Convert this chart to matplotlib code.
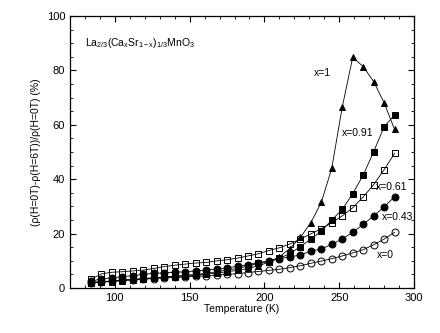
import numpy as np
import matplotlib
matplotlib.use("Agg")
import matplotlib.pyplot as plt
from matplotlib.ticker import MultipleLocator

plt.rcParams['font.family'] = ['Liberation Sans', 'DejaVu Sans']
plt.rcParams['mathtext.fontset'] = 'custom'
plt.rcParams['mathtext.rm'] = 'Liberation Sans'
plt.rcParams['mathtext.it'] = 'Liberation Sans'

# temperature grid (K)
temps = [84, 91, 98, 105, 112, 119, 126, 133, 140, 147,
         154, 161, 168, 175, 182, 189, 196, 203, 210, 217,
         224, 231, 238, 245, 252, 259, 266, 273, 280, 287]

# magnetoresistance (%) for each composition
mr_x0 = [2.0, 2.3, 2.6, 2.9, 3.1, 3.3, 3.5, 3.7, 3.9, 4.1,
         4.3, 4.5, 4.8, 5.0, 5.3, 5.7, 6.1, 6.5, 6.9, 7.5,
         8.2, 9.1, 9.9, 10.8, 11.8, 12.9, 14.1, 15.9, 18.0, 20.5]
mr_x043 = [2.6, 3.3, 3.8, 4.2, 4.6, 5.0, 5.4, 5.6, 5.8, 6.0,
           6.3, 6.6, 7.0, 7.4, 8.0, 8.6, 9.3, 10.0, 10.8, 11.5,
           12.1, 13.6, 14.3, 16.1, 18.0, 20.5, 23.4, 26.5, 29.8, 33.6]
mr_x061 = [3.2, 5.2, 5.8, 6.0, 6.3, 6.6, 7.2, 7.9, 8.4, 8.8,
           9.2, 9.4, 10.0, 10.4, 11.0, 11.8, 12.6, 13.8, 14.8, 16.2,
           18.0, 19.9, 21.8, 24.0, 26.5, 29.5, 33.5, 38.0, 43.5, 49.5]
mr_x091 = [2.0, 2.3, 2.6, 2.9, 3.2, 3.5, 3.8, 4.1, 4.4, 4.7,
           5.0, 5.4, 6.0, 6.6, 7.2, 8.1, 9.1, 9.7, 10.9, 12.7,
           15.2, 18.0, 20.9, 25.0, 28.9, 34.7, 41.5, 50.1, 59.3, 63.6]
mr_x1 = [2.0, 2.2, 2.4, 2.7, 3.0, 3.3, 3.6, 3.9, 4.2, 4.5,
         4.8, 5.1, 5.5, 6.0, 6.5, 7.2, 8.2, 9.5, 11.5, 14.5,
         18.6, 24.0, 31.5, 44.0, 66.5, 84.8, 81.4, 75.9, 68.1, 58.3]

labels = ['x=1', 'x=0.91', 'x=0.61', 'x=0.43', 'x=0']
label_pos = [(239, 79), (262, 57), (285, 37), (289, 26), (281, 12)]

fig = plt.figure(figsize=(4.4, 3.33), dpi=100)
ax = fig.add_axes([0.159, 0.135, 0.782, 0.817])

line_kw = dict(color='black', lw=0.6, ms=5, mec='black', mew=0.7)
ax.plot(temps, mr_x0, marker='o', mfc='none', **line_kw)
ax.plot(temps, mr_x043, marker='o', mfc='black', **line_kw)
ax.plot(temps, mr_x061, marker='s', mfc='none', **line_kw)
ax.plot(temps, mr_x091, marker='s', mfc='black', **line_kw)
ax.plot(temps, mr_x1, marker='^', mfc='black', **line_kw)

for text, (tx, ty) in zip(labels, label_pos):
    ax.text(tx, ty, text, fontsize=7.5, ha='center', va='center')

ax.text(80, 90, r'La$_{2/3}$(Ca$_x$Sr$_{1-x}$)$_{1/3}$MnO$_3$', fontsize=7.5,
        ha='left', va='center')

ax.set_xlim(70, 300)
ax.set_ylim(0, 100)
ax.xaxis.set_major_locator(MultipleLocator(50))
ax.xaxis.set_minor_locator(MultipleLocator(10))
ax.yaxis.set_major_locator(MultipleLocator(20))
ax.yaxis.set_minor_locator(MultipleLocator(5))
ax.tick_params(which='both', direction='in', top=True, right=True, labelsize=8)
ax.tick_params(which='major', length=4, width=0.8)
ax.tick_params(which='minor', length=2, width=0.6)
for sp in ax.spines.values():
    sp.set_linewidth(0.9)

ax.set_xlabel('Temperature (K)', fontsize=7.5, labelpad=1)
ax.set_ylabel('(\u03c1(H=0T)-\u03c1(H=6T))/\u03c1(H=0T) (%)', fontsize=7.5, labelpad=4)

fig.savefig('out.png', dpi=100)
